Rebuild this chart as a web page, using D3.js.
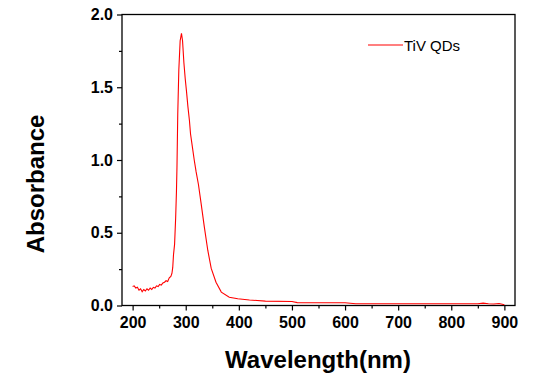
<!DOCTYPE html>
<html><head><meta charset="utf-8">
<script src="https://cdn.jsdelivr.net/npm/d3@7"></script>
<style>
html,body{margin:0;padding:0;background:#fff;}
svg{display:block;font-family:Arial,"Liberation Sans",sans-serif;}
</style></head>
<body>
<svg id="chart" width="547" height="382"></svg>
<script>
const seriesName = "TiV QDs";
const wavelength = [200,203,206,209,212,215,218,221,224,227,230,233,236,239,242,245,248,251,254,257,260,263,266,269,272,274,275.5,277,279,281,282.5,283.5,285,287,289.5,292,294,296.5,299,301.5,304,307,309,312.5,316,319.5,324,329,335,341.5,348,357,367,382,398,420,450,500,510,560,600,620,700,800,850,860,870,880,890,900];
const absorbance = [0.13,0.135,0.12,0.125,0.105,0.115,0.095,0.11,0.1,0.115,0.105,0.12,0.11,0.125,0.12,0.135,0.13,0.145,0.14,0.155,0.16,0.17,0.165,0.19,0.2,0.22,0.26,0.35,0.42,0.6,0.78,0.95,1.32,1.62,1.82,1.87,1.82,1.67,1.56,1.47,1.37,1.27,1.18,1.09,1.0,0.92,0.83,0.70,0.54,0.38,0.255,0.16,0.092,0.057,0.046,0.038,0.03,0.027,0.02,0.019,0.019,0.012,0.012,0.012,0.012,0.016,0.012,0.01,0.014,0.005];
const xTicks = [200,300,400,500,600,700,800,900];
const yTicks = [0,0.5,1.0,1.5,2.0];
const xMinor = [250,350,450,550,650,750,850];
const yMinor = [0.25,0.75,1.25,1.75];

const svg = d3.select("#chart");
const L = 122, R = 515, T = 14.5, B = 305.5;
const x = d3.scaleLinear().domain([180,920]).range([L,R]);
const y = d3.scaleLinear().domain([0,2]).range([B,T]);

// frame
svg.append("rect").attr("x",L).attr("y",T).attr("width",R-L).attr("height",B-T)
  .attr("fill","none").attr("stroke","#000").attr("stroke-width",1.3);

// x axis
svg.append("g").attr("transform",`translate(0,${B})`)
  .call(d3.axisBottom(x).tickValues(xTicks).tickFormat(d3.format("d")).tickSize(5).tickPadding(6));
svg.append("g").attr("transform",`translate(0,${B})`)
  .call(d3.axisBottom(x).tickValues(xMinor).tickFormat("").tickSize(3));
// y axis
svg.append("g").attr("transform",`translate(${L},0)`)
  .call(d3.axisLeft(y).tickValues(yTicks).tickFormat(d3.format(".1f")).tickSize(5).tickPadding(4));
svg.append("g").attr("transform",`translate(${L},0)`)
  .call(d3.axisLeft(y).tickValues(yMinor).tickFormat("").tickSize(3));

svg.selectAll(".domain").remove();
svg.selectAll(".tick line").attr("stroke","#000").attr("stroke-width",1.2);
svg.selectAll(".tick text").attr("fill","#000").attr("font-size",16).attr("font-weight","bold")
  .attr("font-family","Arial, 'Liberation Sans', sans-serif");

// line
const line = d3.line().x((d,i)=>x(wavelength[i])).y(d=>y(d));
svg.append("path").datum(absorbance).attr("d",line)
  .attr("fill","none").attr("stroke","#ff0000").attr("stroke-width",1.1);

// axis titles
svg.append("text").attr("x",318).attr("y",368).attr("text-anchor","middle")
  .attr("font-size",24).attr("font-weight","bold").text("Wavelength(nm)");
svg.append("text").attr("transform","translate(44,184) rotate(-90)").attr("text-anchor","middle")
  .attr("font-size",24).attr("font-weight","bold").text("Absorbance");

// legend
svg.append("line").attr("x1",368).attr("x2",403).attr("y1",45).attr("y2",45)
  .attr("stroke","#ff0000").attr("stroke-width",1.1);
svg.append("text").attr("x",404).attr("y",50.5).attr("font-size",15).text(seriesName);
</script>
</body></html>
